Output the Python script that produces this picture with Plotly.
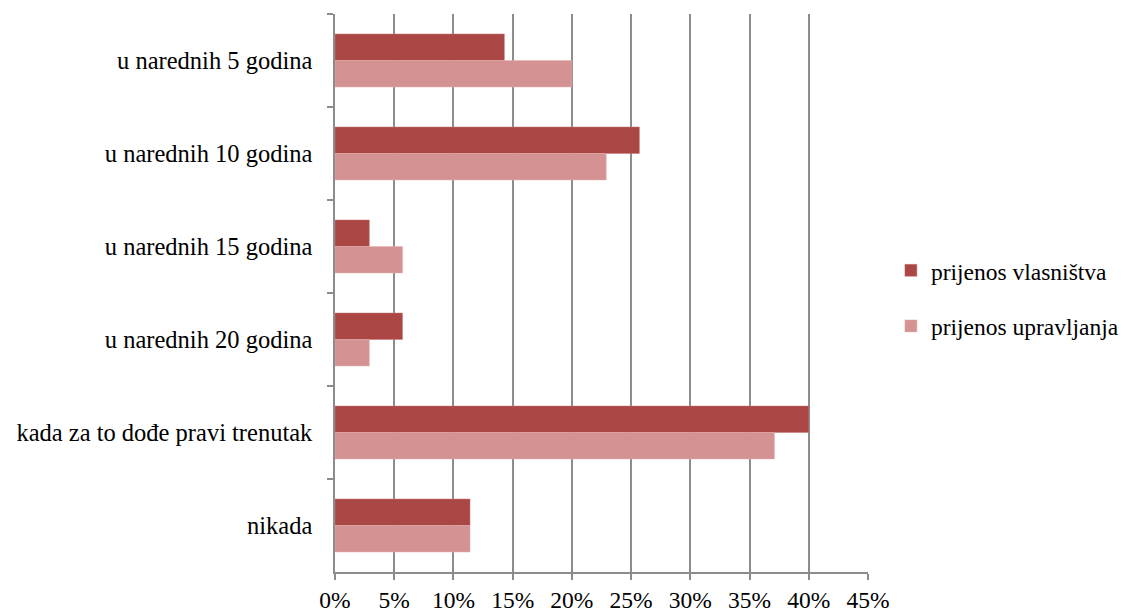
import plotly.graph_objects as go

categories = ["u narednih 5 godina", "u narednih 10 godina", "u narednih 15 godina",
              "u narednih 20 godina", "kada za to dođe pravi trenutak", "nikada"]
vlasnistva = [14.3, 25.7, 2.9, 5.7, 40.0, 11.4]
upravljanja = [20.0, 22.9, 5.7, 2.9, 37.1, 11.4]
x_ticks = [0, 5, 10, 15, 20, 25, 30, 35, 40, 45]
x_labels = [f"{v}%" for v in x_ticks]

SERIF = "Liberation Serif, Times New Roman, serif"

fig = go.Figure()
fig.add_trace(go.Bar(y=categories, x=vlasnistva, orientation="h", name="prijenos vlasništva",
                     marker=dict(color="#AA4644", line=dict(color="#C97A78", width=0.5)),
                     legendgroup="a"))
fig.add_trace(go.Bar(y=categories, x=upravljanja, orientation="h", name="prijenos upravljanja",
                     marker=dict(color="#D49392", line=dict(color="#E2B0AF", width=0.5)),
                     legendgroup="b"))

fig.update_layout(
    width=1127, height=606,
    margin=dict(l=327, r=267, t=6, b=42),
    paper_bgcolor="white", plot_bgcolor="white",
    barmode="group", bargap=0.43, bargroupgap=0,
    font=dict(family=SERIF, size=24, color="black"),
    legend=dict(x=1.043, xanchor="left", y=0.49, yanchor="middle",
                traceorder="grouped", tracegroupgap=22,
                font=dict(family=SERIF, size=23.5, color="black")),
    showlegend=True,
)
fig.update_xaxes(range=[0, 45], tickvals=x_ticks, ticktext=x_labels,
                 showgrid=True, gridcolor="#8C8C8C", gridwidth=1.5,
                 showline=True, linecolor="#8C8C8C", linewidth=1.5,
                 ticks="outside", ticklen=6, tickcolor="#8C8C8C", tickwidth=1.5,
                 tickfont=dict(family=SERIF, size=23.5), zeroline=False, automargin=False)
fig.update_yaxes(categoryorder="array", categoryarray=categories, autorange="reversed",
                 showline=True, linecolor="#8C8C8C", linewidth=1.5,
                 ticks="outside", ticklen=6, tickcolor="#8C8C8C", tickwidth=1.5,
                 tickson="boundaries", ticklabelstandoff=16, automargin=False,
                 tickfont=dict(family=SERIF, size=24.5), showgrid=False)

fig.write_html("out.html")
